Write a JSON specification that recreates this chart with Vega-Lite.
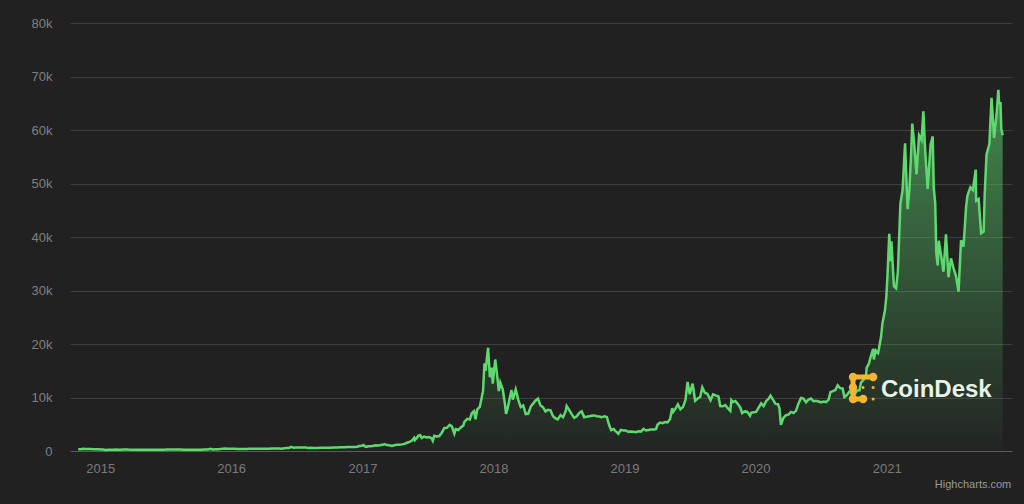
{
  "$schema": "https://vega.github.io/schema/vega-lite/v6.json",
  "autosize": {"type": "none"},
  "width": 942,
  "height": 428,
  "padding": {"left": 70, "top": 23, "right": 12, "bottom": 53},
  "background": "#212121",
  "config": {"view": {"stroke": null}, "font": "Liberation Sans"},
  "data": {"values": [
    {"date":"2014-11-01","price":325},{"date":"2014-11-08","price":343},{"date":"2014-11-15","price":400},{"date":"2014-11-22","price":368},{"date":"2014-11-29","price":376},{"date":"2014-12-06","price":375},{"date":"2014-12-13","price":350},{"date":"2014-12-20","price":330},{"date":"2014-12-27","price":316},
    {"date":"2015-01-03","price":287},{"date":"2015-01-10","price":274},{"date":"2015-01-14","price":178},{"date":"2015-01-17","price":200},{"date":"2015-01-24","price":248},{"date":"2015-01-31","price":218},{"date":"2015-02-07","price":224},{"date":"2015-02-14","price":258},{"date":"2015-02-21","price":244},{"date":"2015-02-28","price":254},{"date":"2015-03-07","price":275},{"date":"2015-03-14","price":281},{"date":"2015-03-21","price":260},{"date":"2015-03-28","price":252},{"date":"2015-04-04","price":254},{"date":"2015-04-11","price":236},{"date":"2015-04-18","price":223},{"date":"2015-04-25","price":226},{"date":"2015-05-02","price":235},{"date":"2015-05-09","price":242},{"date":"2015-05-16","price":236},{"date":"2015-05-23","price":240},{"date":"2015-05-30","price":233},{"date":"2015-06-06","price":225},{"date":"2015-06-13","price":233},{"date":"2015-06-20","price":244},{"date":"2015-06-27","price":250},{"date":"2015-07-04","price":260},{"date":"2015-07-11","price":294},{"date":"2015-07-18","price":275},{"date":"2015-07-25","price":289},{"date":"2015-08-01","price":281},{"date":"2015-08-08","price":260},{"date":"2015-08-15","price":260},{"date":"2015-08-19","price":226},{"date":"2015-08-29","price":229},{"date":"2015-09-05","price":235},{"date":"2015-09-12","price":230},{"date":"2015-09-19","price":232},{"date":"2015-09-26","price":234},{"date":"2015-10-03","price":238},{"date":"2015-10-10","price":245},{"date":"2015-10-17","price":270},{"date":"2015-10-24","price":283},{"date":"2015-10-31","price":314},{"date":"2015-11-04","price":403},{"date":"2015-11-11","price":304},{"date":"2015-11-18","price":335},{"date":"2015-11-25","price":328},{"date":"2015-12-02","price":360},{"date":"2015-12-09","price":417},{"date":"2015-12-16","price":454},{"date":"2015-12-23","price":442},{"date":"2015-12-30","price":426},
    {"date":"2016-01-06","price":431},{"date":"2016-01-13","price":432},{"date":"2016-01-16","price":388},{"date":"2016-01-23","price":388},{"date":"2016-01-30","price":378},{"date":"2016-02-06","price":376},{"date":"2016-02-13","price":390},{"date":"2016-02-20","price":438},{"date":"2016-02-27","price":432},{"date":"2016-03-05","price":398},{"date":"2016-03-12","price":413},{"date":"2016-03-19","price":409},{"date":"2016-03-26","price":417},{"date":"2016-04-02","price":420},{"date":"2016-04-09","price":420},{"date":"2016-04-16","price":430},{"date":"2016-04-23","price":448},{"date":"2016-04-30","price":448},{"date":"2016-05-07","price":459},{"date":"2016-05-14","price":455},{"date":"2016-05-21","price":443},{"date":"2016-05-28","price":527},{"date":"2016-06-04","price":574},{"date":"2016-06-11","price":580},{"date":"2016-06-16","price":766},{"date":"2016-06-23","price":622},{"date":"2016-06-30","price":673},{"date":"2016-07-07","price":640},{"date":"2016-07-14","price":658},{"date":"2016-07-21","price":665},{"date":"2016-07-28","price":655},{"date":"2016-08-02","price":547},{"date":"2016-08-09","price":588},{"date":"2016-08-16","price":577},{"date":"2016-08-23","price":581},{"date":"2016-08-30","price":575},{"date":"2016-09-06","price":610},{"date":"2016-09-13","price":608},{"date":"2016-09-20","price":609},{"date":"2016-09-27","price":606},{"date":"2016-10-04","price":610},{"date":"2016-10-11","price":641},{"date":"2016-10-18","price":637},{"date":"2016-10-25","price":655},{"date":"2016-10-30","price":700},{"date":"2016-11-06","price":711},{"date":"2016-11-13","price":704},{"date":"2016-11-20","price":730},{"date":"2016-11-27","price":731},{"date":"2016-12-04","price":764},{"date":"2016-12-11","price":770},{"date":"2016-12-18","price":791},{"date":"2016-12-23","price":921},{"date":"2016-12-30","price":961},
    {"date":"2017-01-04","price":1130},{"date":"2017-01-07","price":900},{"date":"2017-01-11","price":780},{"date":"2017-01-18","price":870},{"date":"2017-01-25","price":890},{"date":"2017-02-01","price":985},{"date":"2017-02-08","price":1056},{"date":"2017-02-15","price":1010},{"date":"2017-02-22","price":1125},{"date":"2017-03-01","price":1222},{"date":"2017-03-03","price":1275},{"date":"2017-03-10","price":1110},{"date":"2017-03-17","price":1070},{"date":"2017-03-24","price":940},{"date":"2017-03-31","price":1080},{"date":"2017-04-07","price":1190},{"date":"2017-04-14","price":1180},{"date":"2017-04-21","price":1240},{"date":"2017-04-28","price":1330},{"date":"2017-05-05","price":1540},{"date":"2017-05-12","price":1720},{"date":"2017-05-19","price":1960},{"date":"2017-05-25","price":2450},{"date":"2017-05-27","price":2050},{"date":"2017-06-01","price":2410},{"date":"2017-06-06","price":2870},{"date":"2017-06-11","price":2960},{"date":"2017-06-15","price":2440},{"date":"2017-06-22","price":2710},{"date":"2017-06-29","price":2550},{"date":"2017-07-06","price":2610},{"date":"2017-07-13","price":2350},{"date":"2017-07-16","price":1930},{"date":"2017-07-20","price":2830},{"date":"2017-07-27","price":2700},{"date":"2017-08-03","price":2800},{"date":"2017-08-10","price":3420},{"date":"2017-08-17","price":4300},{"date":"2017-08-24","price":4330},{"date":"2017-09-01","price":4890},{"date":"2017-09-07","price":4600},{"date":"2017-09-14","price":3240},{"date":"2017-09-18","price":4100},{"date":"2017-09-25","price":3920},{"date":"2017-10-02","price":4400},{"date":"2017-10-09","price":4780},{"date":"2017-10-12","price":5430},{"date":"2017-10-20","price":6000},{"date":"2017-10-27","price":5900},{"date":"2017-11-02","price":7100},{"date":"2017-11-08","price":7460},{"date":"2017-11-12","price":5950},{"date":"2017-11-17","price":7800},{"date":"2017-11-24","price":8250},{"date":"2017-11-29","price":9900},{"date":"2017-12-03","price":11200},{"date":"2017-12-07","price":16400},{"date":"2017-12-10","price":15000},{"date":"2017-12-17","price":19300},{"date":"2017-12-22","price":13800},{"date":"2017-12-27","price":15600},{"date":"2017-12-30","price":12600},
    {"date":"2018-01-06","price":17100},{"date":"2018-01-10","price":14900},{"date":"2018-01-16","price":11200},{"date":"2018-01-20","price":12800},{"date":"2018-01-27","price":11500},{"date":"2018-02-02","price":8800},{"date":"2018-02-05","price":6950},{"date":"2018-02-10","price":8100},{"date":"2018-02-16","price":10100},{"date":"2018-02-20","price":11400},{"date":"2018-02-24","price":9600},{"date":"2018-03-04","price":11500},{"date":"2018-03-11","price":9600},{"date":"2018-03-18","price":8200},{"date":"2018-03-25","price":8500},{"date":"2018-04-01","price":6900},{"date":"2018-04-08","price":7000},{"date":"2018-04-15","price":8300},{"date":"2018-04-22","price":8900},{"date":"2018-04-28","price":9400},{"date":"2018-05-05","price":9800},{"date":"2018-05-12","price":8500},{"date":"2018-05-19","price":8200},{"date":"2018-05-26","price":7400},{"date":"2018-06-02","price":7700},{"date":"2018-06-09","price":7600},{"date":"2018-06-16","price":6500},{"date":"2018-06-23","price":6100},{"date":"2018-06-29","price":5900},{"date":"2018-07-07","price":6700},{"date":"2018-07-14","price":6300},{"date":"2018-07-21","price":7400},{"date":"2018-07-24","price":8400},{"date":"2018-07-31","price":7700},{"date":"2018-08-07","price":6900},{"date":"2018-08-14","price":6200},{"date":"2018-08-21","price":6500},{"date":"2018-08-28","price":7100},{"date":"2018-09-04","price":7400},{"date":"2018-09-11","price":6300},{"date":"2018-09-18","price":6400},{"date":"2018-09-25","price":6500},{"date":"2018-10-02","price":6600},{"date":"2018-10-09","price":6650},{"date":"2018-10-16","price":6500},{"date":"2018-10-23","price":6450},{"date":"2018-10-30","price":6300},{"date":"2018-11-06","price":6480},{"date":"2018-11-13","price":6350},{"date":"2018-11-19","price":4900},{"date":"2018-11-25","price":3900},{"date":"2018-12-02","price":4100},{"date":"2018-12-09","price":3600},{"date":"2018-12-15","price":3200},{"date":"2018-12-22","price":3950},{"date":"2018-12-29","price":3850},
    {"date":"2019-01-05","price":3830},{"date":"2019-01-12","price":3580},{"date":"2019-01-19","price":3650},{"date":"2019-01-26","price":3580},{"date":"2019-02-02","price":3500},{"date":"2019-02-09","price":3670},{"date":"2019-02-16","price":3630},{"date":"2019-02-23","price":4150},{"date":"2019-03-02","price":3830},{"date":"2019-03-09","price":3930},{"date":"2019-03-16","price":4020},{"date":"2019-03-23","price":4000},{"date":"2019-03-30","price":4100},{"date":"2019-04-03","price":4900},{"date":"2019-04-10","price":5300},{"date":"2019-04-17","price":5200},{"date":"2019-04-24","price":5400},{"date":"2019-05-01","price":5350},{"date":"2019-05-08","price":5950},{"date":"2019-05-14","price":8000},{"date":"2019-05-17","price":7300},{"date":"2019-05-24","price":8000},{"date":"2019-05-30","price":8700},{"date":"2019-06-06","price":7800},{"date":"2019-06-13","price":8200},{"date":"2019-06-20","price":9500},{"date":"2019-06-26","price":12900},{"date":"2019-07-02","price":10600},{"date":"2019-07-10","price":12600},{"date":"2019-07-17","price":9400},{"date":"2019-07-24","price":9800},{"date":"2019-07-31","price":10100},{"date":"2019-08-06","price":11900},{"date":"2019-08-13","price":10900},{"date":"2019-08-20","price":10700},{"date":"2019-08-29","price":9500},{"date":"2019-09-05","price":10600},{"date":"2019-09-12","price":10400},{"date":"2019-09-20","price":10200},{"date":"2019-09-25","price":8400},{"date":"2019-10-02","price":8350},{"date":"2019-10-09","price":8600},{"date":"2019-10-16","price":8000},{"date":"2019-10-23","price":7500},{"date":"2019-10-26","price":9500},{"date":"2019-10-30","price":9150},{"date":"2019-11-06","price":9350},{"date":"2019-11-13","price":8800},{"date":"2019-11-20","price":8100},{"date":"2019-11-25","price":7100},{"date":"2019-12-02","price":7400},{"date":"2019-12-09","price":7350},{"date":"2019-12-17","price":6600},{"date":"2019-12-20","price":7150},{"date":"2019-12-27","price":7250},
    {"date":"2020-01-03","price":7300},{"date":"2020-01-10","price":8100},{"date":"2020-01-17","price":8900},{"date":"2020-01-24","price":8400},{"date":"2020-01-31","price":9350},{"date":"2020-02-07","price":9800},{"date":"2020-02-12","price":10350},{"date":"2020-02-19","price":9600},{"date":"2020-02-26","price":8800},{"date":"2020-03-04","price":8750},{"date":"2020-03-08","price":8000},{"date":"2020-03-12","price":4900},{"date":"2020-03-19","price":6200},{"date":"2020-03-26","price":6700},{"date":"2020-04-02","price":6800},{"date":"2020-04-09","price":7300},{"date":"2020-04-16","price":7100},{"date":"2020-04-23","price":7500},{"date":"2020-04-29","price":8700},{"date":"2020-05-07","price":9900},{"date":"2020-05-14","price":9800},{"date":"2020-05-21","price":9100},{"date":"2020-05-28","price":9600},{"date":"2020-06-04","price":9800},{"date":"2020-06-11","price":9300},{"date":"2020-06-18","price":9400},{"date":"2020-06-25","price":9250},{"date":"2020-07-02","price":9100},{"date":"2020-07-09","price":9250},{"date":"2020-07-16","price":9150},{"date":"2020-07-23","price":9600},{"date":"2020-07-28","price":11000},{"date":"2020-08-04","price":11200},{"date":"2020-08-11","price":11400},{"date":"2020-08-17","price":12300},{"date":"2020-08-24","price":11750},{"date":"2020-08-31","price":11700},{"date":"2020-09-05","price":10100},{"date":"2020-09-12","price":10450},{"date":"2020-09-19","price":11100},{"date":"2020-09-26","price":10750},{"date":"2020-10-03","price":10550},{"date":"2020-10-10","price":11300},{"date":"2020-10-17","price":11350},{"date":"2020-10-21","price":12800},{"date":"2020-10-28","price":13300},{"date":"2020-11-04","price":14000},{"date":"2020-11-06","price":15600},{"date":"2020-11-12","price":16300},{"date":"2020-11-18","price":17800},{"date":"2020-11-24","price":19100},{"date":"2020-11-26","price":17100},{"date":"2020-12-01","price":18800},{"date":"2020-12-08","price":18300},{"date":"2020-12-16","price":21300},{"date":"2020-12-20","price":23900},{"date":"2020-12-27","price":26300},{"date":"2020-12-31","price":29000},
    {"date":"2021-01-03","price":32800},{"date":"2021-01-08","price":40600},{"date":"2021-01-11","price":35500},{"date":"2021-01-14","price":39200},{"date":"2021-01-21","price":30800},{"date":"2021-01-27","price":30400},{"date":"2021-02-01","price":33500},{"date":"2021-02-08","price":46200},{"date":"2021-02-14","price":48700},{"date":"2021-02-21","price":57500},{"date":"2021-02-28","price":45200},{"date":"2021-03-05","price":48800},{"date":"2021-03-10","price":55900},{"date":"2021-03-13","price":61200},{"date":"2021-03-18","price":57800},{"date":"2021-03-25","price":51700},{"date":"2021-04-01","price":59000},{"date":"2021-04-08","price":58100},{"date":"2021-04-13","price":63500},{"date":"2021-04-18","price":56200},{"date":"2021-04-25","price":49000},{"date":"2021-05-03","price":57200},{"date":"2021-05-09","price":58800},{"date":"2021-05-12","price":49200},{"date":"2021-05-16","price":46400},{"date":"2021-05-19","price":37000},{"date":"2021-05-23","price":34700},{"date":"2021-05-26","price":39300},{"date":"2021-06-01","price":36700},{"date":"2021-06-08","price":33500},{"date":"2021-06-15","price":40500},{"date":"2021-06-22","price":32500},{"date":"2021-06-29","price":36000},{"date":"2021-07-06","price":34200},{"date":"2021-07-13","price":32700},{"date":"2021-07-20","price":29800},{"date":"2021-07-27","price":39400},{"date":"2021-08-03","price":38200},{"date":"2021-08-10","price":45600},{"date":"2021-08-14","price":47800},{"date":"2021-08-22","price":49300},{"date":"2021-08-29","price":48800},{"date":"2021-09-06","price":52600},{"date":"2021-09-07","price":46800},{"date":"2021-09-14","price":47100},{"date":"2021-09-21","price":40700},{"date":"2021-09-28","price":41000},{"date":"2021-10-01","price":48100},{"date":"2021-10-06","price":55400},{"date":"2021-10-14","price":57400},{"date":"2021-10-20","price":66000},{"date":"2021-10-27","price":58500},{"date":"2021-11-03","price":62900},{"date":"2021-11-08","price":67500},{"date":"2021-11-10","price":65000},{"date":"2021-11-14","price":65000},{"date":"2021-11-16","price":60300},{"date":"2021-11-20","price":59000}
  ]},
  "encoding": {
    "x": {"field": "date", "type": "temporal",
      "scale": {"type": "utc", "domain": [{"year": 2014, "month": 10, "date": 9, "utc": true}, {"year": 2021, "month": 12, "date": 16, "utc": true}]},
      "axis": {"title": null, "values": [{"year":2015,"month":1,"date":1,"utc":true},{"year":2016,"month":1,"date":1,"utc":true},{"year":2017,"month":1,"date":1,"utc":true},{"year":2018,"month":1,"date":1,"utc":true},{"year":2019,"month":1,"date":1,"utc":true},{"year":2020,"month":1,"date":1,"utc":true},{"year":2021,"month":1,"date":1,"utc":true}],
        "labelExpr": "utcFormat(datum.value, '%Y')", "grid": false, "ticks": false, "domainColor": "#5a5a5a", "labelColor": "#7a7a7a", "labelFontSize": 13, "labelPadding": 11, "labelFlush": false, "labelOverlap": false, "labelFont": "Liberation Sans"}},
    "y": {"field": "price", "type": "quantitative",
      "scale": {"domain": [0, 80000], "nice": false},
      "axis": {"title": null, "values": [0,10000,20000,30000,40000,50000,60000,70000,80000],
        "labelExpr": "datum.value == 0 ? '0' : (datum.value / 1000) + 'k'", "grid": true, "gridColor": "#3e3e3e", "gridWidth": 1, "domain": false, "ticks": false, "labelPadding": 18, "labelColor": "#808080", "labelFontSize": 13, "labelFont": "Liberation Sans"}}
  },
  "layer": [
    {"mark": {"type": "area", "interpolate": "linear",
      "color": {"gradient": "linear", "x1": 1, "y1": 0, "x2": 1, "y2": 1,
        "stops": [{"offset": 0, "color": "rgba(92,214,111,0.82)"}, {"offset": 0.5, "color": "rgba(92,214,111,0.42)"}, {"offset": 1, "color": "rgba(92,214,111,0.03)"}]},
      "line": {"color": "#5fd96f", "strokeWidth": 2.5}}},
    {"data": {"values": [{"date":"2020-10-27","price":9720},{"date":"2020-09-29","price":9720},{"date":"2020-09-29","price":13832},{"date":"2020-11-24","price":13832}]},
     "mark": {"type": "line", "color": "#f2b630", "strokeWidth": 5, "strokeCap": "round", "strokeJoin": "round", "interpolate": "linear"},
     "encoding": {"order": {"value": null}}},
    {"data": {"values": [{"date":"2020-09-29","price":13832},{"date":"2020-11-24","price":13832},{"date":"2020-09-29","price":11870},{"date":"2020-09-29","price":9720},{"date":"2020-10-27","price":9720}]},
     "mark": {"type": "point", "shape": "circle", "filled": true, "color": "#f2b630", "opacity": 1, "size": 70}},
    {"data": {"values": [{"date":"2020-11-24","price":11870},{"date":"2020-11-24","price":9720},{"date":"2020-10-27","price":11870}]},
     "mark": {"type": "point", "shape": "circle", "filled": true, "color": "#f2b630", "opacity": 1, "size": 9}},
    {"data": {"values": [{"date":"2020-12-16","price":10100,"label":"CoinDesk"}]},
     "mark": {"type": "text", "font": "Liberation Sans", "fontWeight": "bold", "fontSize": 24, "color": "#e6f3e6", "align": "left", "baseline": "alphabetic"},
     "encoding": {"text": {"field": "label", "type": "nominal"}}},
    {"data": {"values": [{"date":"2021-12-14","price":-6900,"label":"Highcharts.com"}]},
     "mark": {"type": "text", "font": "Liberation Sans", "fontSize": 11, "color": "#9a9a9a", "align": "right", "baseline": "alphabetic"},
     "encoding": {"text": {"field": "label", "type": "nominal"}}}
  ]
}
